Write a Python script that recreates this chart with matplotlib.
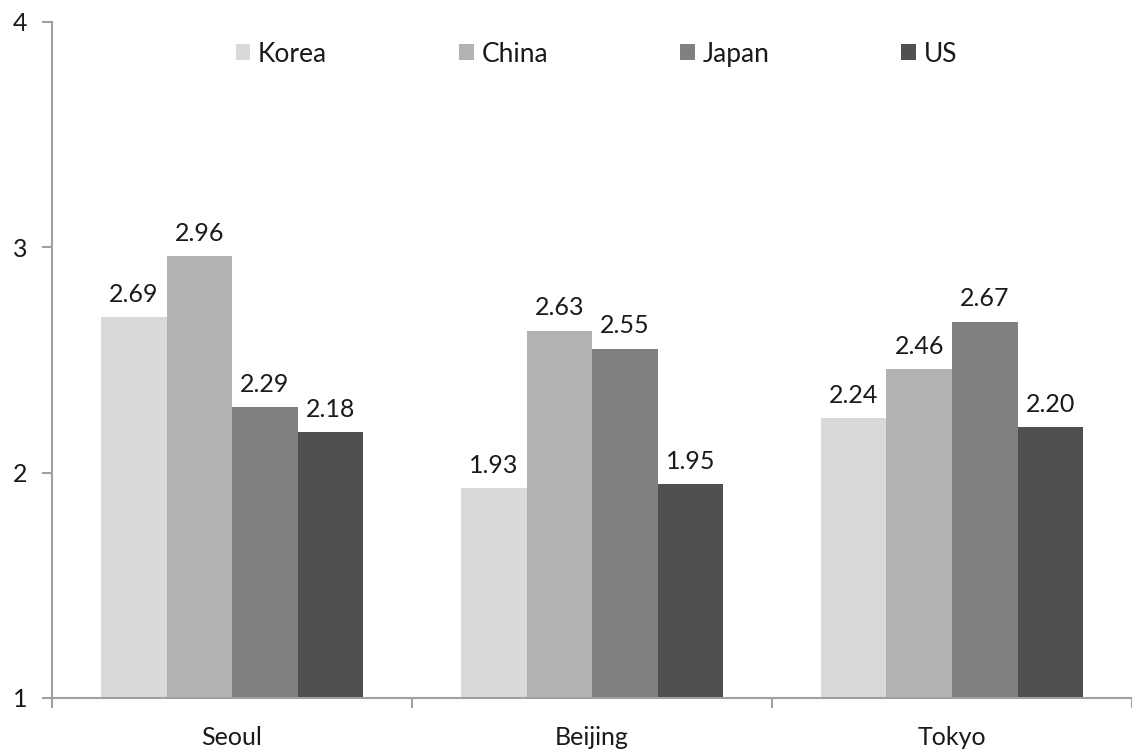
import numpy as np
import matplotlib
matplotlib.use("Agg")
import matplotlib.pyplot as plt
from matplotlib.patches import Patch

plt.rcParams['font.family'] = ['Lato', 'DejaVu Sans']

cities = ['Seoul', 'Beijing', 'Tokyo']
groups = ['Korea', 'China', 'Japan', 'US']
korea = [2.69, 1.93, 2.24]
china = [2.96, 2.63, 2.46]
japan = [2.29, 2.55, 2.67]
us = [2.18, 1.95, 2.20]
colors = ['#d9d9d9', '#b2b2b2', '#808080', '#505050']

series = [korea, china, japan, us]

fig = plt.figure(figsize=(11.32, 7.52), dpi=100)
ax = fig.add_axes([0.046, 0.072, 0.954, 0.899])

x = np.arange(len(cities))
w = 0.182
for i, vals in enumerate(series):
    pos = x + (i - 1.5) * w
    bars = ax.bar(pos, vals, width=w, color=colors[i], edgecolor='none', zorder=2)
    for p, v in zip(pos, vals):
        ax.annotate('%.2f' % v, (p, v), xytext=(0, 8), textcoords='offset points',
                    ha='center', va='bottom', fontsize=18, color='#1a1a1a')

ax.set_ylim(1, 4)
ax.set_xlim(-0.5, 2.5)
ax.set_yticks([1, 2, 3, 4])

# category boundaries get tick marks, labels sit on the centres
ax.set_xticks([-0.5, 0.5, 1.5, 2.5])
ax.set_xticklabels([])
ax.set_xticks(x, minor=True)
ax.set_xticklabels(cities, minor=True)
ax.tick_params(axis='x', which='minor', length=0, pad=20, labelsize=18, labelcolor='#1a1a1a')
ax.tick_params(axis='x', which='major', length=7, width=1.5, color='#a0a0a0')
ax.tick_params(axis='y', length=7, width=1.5, color='#a0a0a0', pad=11,
               labelsize=18, labelcolor='#1a1a1a')

for s in ['top', 'right']:
    ax.spines[s].set_visible(False)
for s in ['left', 'bottom']:
    ax.spines[s].set_color('#a0a0a0')
    ax.spines[s].set_linewidth(1.5)

handles = [Patch(facecolor=c, edgecolor='none') for c in colors]
leg = ax.legend(handles, groups, loc='center', bbox_to_anchor=(0.504, 0.952), ncol=4,
                frameon=False, fontsize=19, handlelength=0.55, handleheight=0.55,
                handletextpad=0.3, columnspacing=5.0)
for t in leg.get_texts():
    t.set_color('#1a1a1a')

fig.savefig('out.png', dpi=100)
